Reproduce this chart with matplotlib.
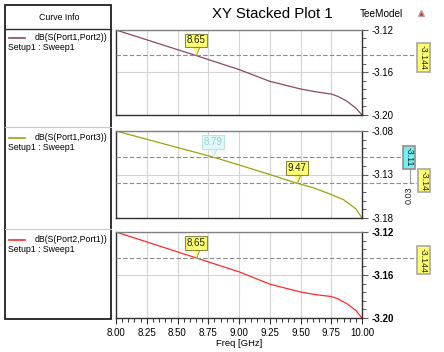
import matplotlib
matplotlib.use("Agg")
import matplotlib.pyplot as plt
from matplotlib.patches import Rectangle
from matplotlib.lines import Line2D
from matplotlib.ticker import MultipleLocator, FixedLocator
import matplotlib.transforms as mtransforms

plt.rcParams['font.family'] = ['Liberation Sans', 'DejaVu Sans']

# dane
freq = [8.00, 8.25, 8.50, 8.65, 8.75, 9.00, 9.25, 9.50, 9.625, 9.75, 9.80, 9.875, 9.95, 10.00]
s12 = [-3.1200, -3.1292, -3.1385, -3.1440, -3.1478, -3.1572, -3.1683, -3.1755, -3.1782,
       -3.1803, -3.1823, -3.1868, -3.1935, -3.2000]
s21 = [-3.1200, -3.1292, -3.1385, -3.1440, -3.1478, -3.1570, -3.1685, -3.1758, -3.1783,
       -3.1800, -3.1820, -3.1865, -3.1930, -3.2000]

freq13 = [8.00, 8.25, 8.50, 8.79, 9.00, 9.25, 9.47, 9.60, 9.75, 9.85, 9.95, 10.00]
s13 = [-3.0800, -3.0895, -3.0990, -3.1100, -3.1190, -3.1300, -3.1400, -3.1450,
       -3.1530, -3.1590, -3.1695, -3.1800]

curve_names = ["dB(S(Port1,Port2))", "dB(S(Port1,Port3))", "dB(S(Port2,Port1))"]
setup_name = "Setup1 : Sweep1"
curve_colors = ["#8c4668", "#a0a010", "#ff2a2a"]

ylims = [(-3.20, -3.12), (-3.18, -3.08), (-3.20, -3.12)]
yticks = [[-3.20, -3.16, -3.12], [-3.18, -3.13, -3.08], [-3.20, -3.16, -3.12]]
yminor = [0.008, 0.01, 0.008]
xticks = [8.00, 8.25, 8.50, 8.75, 9.00, 9.25, 9.50, 9.75, 10.00]

# markery: (x, y, tekst, styl)
markers1 = [(8.65, -3.144, "8.65", "y")]
markers2 = [(8.79, -3.11, "8.79", "c"), (9.47, -3.14, "9.47", "y")]
markers3 = [(8.65, -3.144, "8.65", "y")]

W, H = 444, 352
fig = plt.figure(figsize=(W / 100, H / 100), dpi=100)


def fx(x):
    return x / W


def fy(y):
    return 1 - y / H


def add_axes_px(x0, y0, x1, y1):
    return fig.add_axes([fx(x0), fy(y1), fx(x1) - fx(x0), (y1 - y0) / H])


ax1 = add_axes_px(116, 30, 362, 115)
ax2 = add_axes_px(116, 131, 362, 218)
ax3 = add_axes_px(116, 232, 362, 318)
axes = [ax1, ax2, ax3]

ax1.plot(freq, s12, color=curve_colors[0], lw=0.9)
ax2.plot(freq13, s13, color=curve_colors[1], lw=0.9)
ax3.plot(freq, s21, color=curve_colors[2], lw=0.9)

for i, ax in enumerate(axes):
    ax.set_xlim(8.0, 10.0)
    ax.set_ylim(*ylims[i])
    ax.yaxis.tick_right()
    ax.yaxis.set_major_locator(FixedLocator(yticks[i]))
    ax.yaxis.set_minor_locator(MultipleLocator(yminor[i]))
    ax.xaxis.set_major_locator(FixedLocator(xticks))
    ax.xaxis.set_minor_locator(MultipleLocator(0.05))
    ax.yaxis.set_major_formatter(plt.FormatStrFormatter('%.2f'))
    ax.xaxis.set_major_formatter(plt.FormatStrFormatter('%.2f'))
    ax.grid(True, which='major', color='#d4d4d4', lw=0.8)
    ax.set_axisbelow(True)
    for s in ax.spines.values():
        s.set_color('#303030')
        s.set_linewidth(1.0)
    ax.spines['top'].set_color('#808080')
    ax.tick_params(axis='y', which='major', direction='out', length=4, width=0.8,
                   color='#606060', labelsize=7, pad=3)
    ax.tick_params(axis='y', which='minor', direction='out', length=3, width=0.7,
                   color='#606060')
    if i < 2:
        ax.tick_params(axis='x', which='both', bottom=False, labelbottom=False)
    else:
        ax.tick_params(axis='x', which='major', direction='out', length=4, width=0.8,
                       color='#303030', labelsize=7, pad=3)
        ax.tick_params(axis='x', which='minor', direction='out', length=3, width=0.7,
                       color='#303030')
        ax.set_xlabel("Freq [GHz]", fontsize=6.8, labelpad=1)
        for lab in ax.get_yticklabels():
            lab.set_fontweight('bold')

yellow = dict(fc='#ffff70', ec='#8a8a40', text='#202020')
cyan = dict(fc='#e0fafa', ec='#b8e4e4', text='#a0cccc')


def callout(ax, x, y, label, style):
    st = yellow if style == "y" else cyan
    ax.plot([x], [y], marker=[(-4, 10), (4, 10), (0, 0)], markersize=14,
            markerfacecolor=st['fc'], markeredgecolor=st['ec'], markeredgewidth=0.6,
            clip_on=False, zorder=5)
    ax.annotate(label, xy=(x, y), xytext=(0, 15), textcoords='offset pixels',
                ha='center', va='center', fontsize=7, color=st['text'], zorder=6,
                bbox=dict(boxstyle='square,pad=0.18', fc=st['fc'], ec=st['ec'], lw=0.8))


for ax, mk in zip(axes, [markers1, markers2, markers3]):
    for x, y, label, style in mk:
        callout(ax, x, y, label, style)


def ref_line(ax, y, xend):
    tr = mtransforms.blended_transform_factory(ax.transAxes, ax.transData)
    ax.plot([0, xend], [y, y], transform=tr, clip_on=False, color='#8c8c8c',
            lw=0.8, dashes=(4, 2), zorder=3)


def side_label(ax, y, text, xpos, fc, ec):
    tr = mtransforms.blended_transform_factory(ax.transAxes, ax.transData)
    ax.text(xpos, y, text, transform=tr, rotation=270, rotation_mode='anchor',
            ha='center', va='center', fontsize=6.3, color='#202020',
            clip_on=False, zorder=6,
            bbox=dict(boxstyle='square,pad=0.2', fc=fc, ec=ec, lw=1.2))


def px_to_ax(xpx):
    return (xpx - 116) / 246


ref_line(ax1, markers1[0][1], px_to_ax(417))
side_label(ax1, markers1[0][1] - 0.002, "%.3f" % markers1[0][1], px_to_ax(423.5), '#ffff70', '#a8a8a8')

ref_line(ax3, markers3[0][1], px_to_ax(417))
side_label(ax3, markers3[0][1] - 0.002, "%.3f" % markers3[0][1], px_to_ax(423.5), '#ffff70', '#a8a8a8')

y_c, y_y = markers2[0][1], markers2[1][1]
ref_line(ax2, y_c, px_to_ax(403))
ref_line(ax2, y_y, px_to_ax(418))
tr2 = mtransforms.blended_transform_factory(ax2.transAxes, ax2.transData)
ax2.plot([px_to_ax(410), px_to_ax(410)], [y_c, y_y], transform=tr2, clip_on=False,
         color='#a0a0a0', lw=0.9)
side_label(ax2, y_c, "%.2f" % y_c, px_to_ax(409), '#70f0f0', '#909090')
side_label(ax2, y_y + 0.003, "%.2f" % y_y, px_to_ax(424), '#ffff70', '#a8a8a8')
ax2.text(px_to_ax(409), y_y - 0.014, "%.2f" % abs(y_c - y_y), transform=tr2,
         rotation=90, ha='center', va='center', fontsize=6.5, color='#202020',
         clip_on=False)

# panel "Curve Info"
fig.add_artist(Rectangle((fx(5), fy(319)), fx(111) - fx(5), (319 - 5) / H,
                         transform=fig.transFigure, fc='white', ec='#202020', lw=1.3))
fig.add_artist(Line2D([fx(5), fx(111)], [fy(29), fy(29)], transform=fig.transFigure,
                      color='#303030', lw=1.0))
for ysep in [127, 229]:
    fig.add_artist(Line2D([fx(5), fx(111)], [fy(ysep), fy(ysep)], transform=fig.transFigure,
                          color='#c8c8c8', lw=0.8))
fig.text(fx(59), fy(17), "Curve Info", ha='center', va='center', fontsize=6.3)

entry_y = [38, 138, 240]
for name, col, ye in zip(curve_names, curve_colors, entry_y):
    fig.add_artist(Line2D([fx(9), fx(25)], [fy(ye), fy(ye)], transform=fig.transFigure,
                          color=col, lw=1.2))
    fig.text(fx(35), fy(ye), name, ha='left', va='center', fontsize=6.3)
    fig.text(fx(8), fy(ye + 9), setup_name, ha='left', va='center', fontsize=6.3)

fig.text(fx(272), fy(14), "XY Stacked Plot 1", ha='center', va='center', fontsize=10.8)
fig.text(fx(381), fy(14), "TeeModel", ha='center', va='center', fontsize=7.2)
fig.add_artist(Line2D([fx(421)], [fy(13)], transform=fig.transFigure, marker='^',
                      markersize=5, color='#e03030', markeredgecolor='#c0a0a0'))

fig.savefig("out.png", dpi=100)
